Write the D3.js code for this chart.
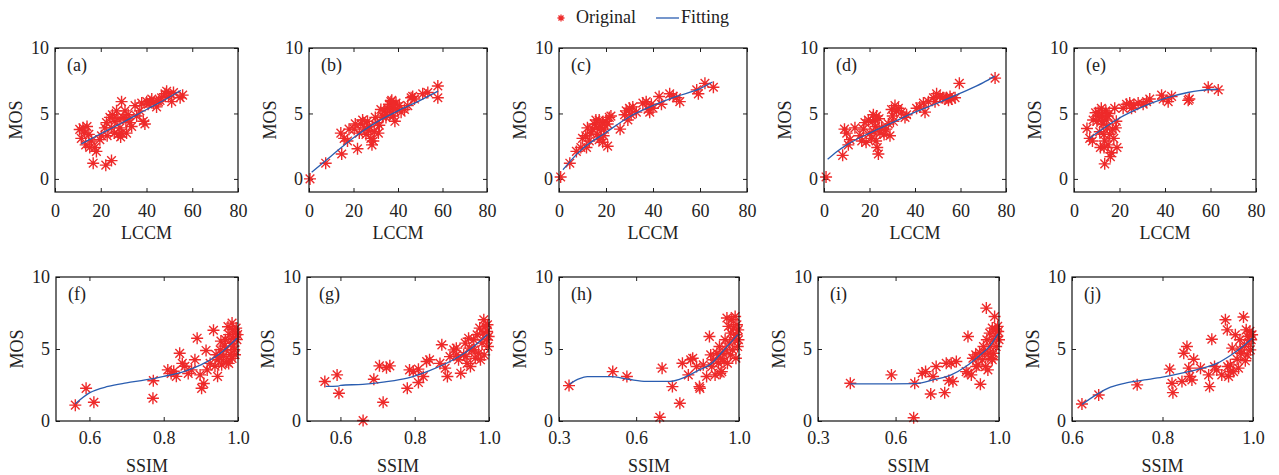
<!DOCTYPE html>
<html>
<head>
<meta charset="utf-8">
<script src="https://cdn.jsdelivr.net/npm/d3@7"></script>
<style>
body { margin: 0; background: #fff; }
text { font-family: "Liberation Serif", serif; fill: #222; }
</style>
</head>
<body>
<svg width="1279" height="475"></svg>
<script>
// Panel names and tick labels
let panelNames = ["(a)", "(b)", "(c)", "(d)", "(e)", "(f)", "(g)", "(h)", "(i)", "(j)"];
let lccmTicks = [0, 20, 40, 60, 80];
let mosTicks = [0, 5, 10];
let ssimTicksFG = [0.6, 0.8, 1.0];
let ssimTicksHI = [0.3, 0.6, 1.0];
let ssimTicksJ = [0.6, 0.8, 1.0];

// (a) LCCM vs MOS
let origA = [[10.8,3.78],[14,4.0],[11.5,3.1],[13,3.5],[14.8,3.4],[16,2.9],[13.4,2.6],[17.4,2.4],[18.1,2.1],[15.2,2.4],
  [16.7,1.2],[22.2,1.05],[24.7,1.4],[19.6,3.0],[20.3,3.3],[21.8,3.9],[22.5,4.3],[24,4.7],[25.1,4.9],[26.2,4.4],
  [25.9,3.5],[27.6,3.4],[28.7,3.2],[28.4,3.9],[29.1,5.9],[26.9,5.2],[29.8,4.7],[30.6,5.2],[32,4.9],[32.7,4.3],
  [33.5,4.0],[31.3,3.5],[35,5.6],[35.7,4.8],[37.1,5.2],[38.6,4.4],[39.3,4.2],[40.1,5.9],[41.5,5.9],[42.3,6.1],
  [43,5.8],[44.4,5.5],[45.2,5.9],[46.6,6.2],[48.1,6.5],[48.8,6.7],[49.6,6.3],[51,5.9],[51.8,6.6],[54.7,6.2],
  [55.8,6.4],[45.9,6.0],[40.7,5.7],[37.9,5.8],[22.8,3.3],[29.1,3.5],[24.7,3.9],[12.2,3.9],[27.5,4.6],[31,4.5]];
let fitA = [[11.5,2.68],[20,3.45],[30,4.35],[40,5.3],[48,6.05],[55,6.76]];

// (b)
let origB = [[0.45,0],[7.5,1.2],[14.7,1.9],[14.3,3.5],[15.8,3.1],[17.3,2.9],[18,3.8],[20.3,3.8],[21.8,2.3],[22.6,3.5],
  [23.3,4.2],[24.1,4.5],[24.8,3.9],[25.6,3.4],[26.3,4.4],[27.1,4.0],[27.8,3.1],[28.3,2.6],[28.9,2.9],[29.3,3.6],
  [29.8,4.7],[30.8,4.3],[31.6,4.1],[33.1,4.8],[33.8,5.2],[34.6,4.7],[35.3,5.4],[36.1,5.7],[36.8,5.9],[37.6,5.4],
  [37.9,4.8],[38.6,4.4],[39.1,5.8],[39.8,5.3],[40.6,5.6],[41.4,5.1],[42.9,5.3],[44.4,5.6],[45.9,6.2],[46.6,6.3],
  [47.4,6.1],[51.1,6.5],[53.4,6.6],[57.9,7.1],[57.9,6.2],[32.3,5.3],[36.8,5.1],[34.6,4.9],[20.8,4.2],[31.2,3.5],
  [37.2,6.0],[38.2,5.6],[26.8,3.7]];
let fitB = [[1.2,0.5],[10,1.75],[20,3.15],[30,4.3],[40,5.2],[50,6.0],[58,6.7]];

// (c)
let origC = [[0.7,0.15],[4.6,1.2],[7.4,2.1],[9.3,2.4],[11.7,2.4],[10,3.1],[11.4,3.3],[12.1,3.9],[13.6,3.5],[15,4.2],
  [15.7,4.5],[16.4,3.4],[17.1,3.0],[17.9,3.9],[18.6,4.3],[17.1,4.5],[19.3,3.8],[20,4.4],[20.7,4.2],[21.4,4.7],
  [22.1,4.8],[20.7,2.5],[18.6,2.8],[26,3.8],[27.9,4.9],[28.6,5.2],[29.3,4.5],[30,5.4],[30.7,4.9],[31.4,5.5],
  [32.9,5.1],[35.7,5.8],[37.1,5.9],[37.9,5.3],[38.6,5.1],[39.3,5.7],[40,5.4],[42.6,6.3],[43.6,5.7],[47.1,6.5],
  [48.6,6.3],[50,6.2],[51.4,5.9],[58.6,6.8],[59.3,6.5],[62.1,7.3],[65.7,7.0],[12.9,2.9],[14.3,3.8],[16.2,3.9],[19,3.3]];
let fitC = [[1.7,0.7],[5,1.4],[10,2.3],[20,3.55],[30,4.75],[40,5.6],[50,6.3],[60,6.9],[65.3,7.4]];

// (d)
let origD = [[0.9,0.15],[8.2,1.8],[9,3.8],[10.7,2.6],[11.4,3.0],[13.6,3.9],[15.8,3.3],[16.6,2.9],[17.3,3.8],[18,4.3],
  [18.5,2.8],[19.5,4.5],[20.2,3.5],[20.9,3.1],[21.4,4.4],[21.7,4.9],[22.4,4.5],[22.7,4.0],[23.1,4.8],[22.9,2.9],
  [23.4,2.4],[23.9,1.9],[24.6,3.5],[25.3,3.9],[26.4,3.4],[27.3,3.8],[28.3,4.2],[29,3.3],[29.7,5.3],[30.2,4.8],
  [30.5,4.4],[31.2,5.6],[31.9,5.2],[32.7,5.4],[34.1,5.1],[35.6,4.7],[36.3,4.9],[40.7,5.4],[42.1,5.5],[43.7,5.8],
  [44.4,5.1],[45.9,5.9],[48.1,6.2],[48.8,5.9],[49.5,6.5],[51,6.3],[52.2,6.2],[53.2,6.1],[53.9,6.2],[54.7,6.0],
  [55.4,6.3],[56.1,6.1],[57.6,6.2],[59.5,7.3],[75.2,7.7],[10,3.5],[22,3.6],[24.2,4.6]];
let fitD = [[1.6,1.5],[5,2.0],[10,2.6],[20,3.5],[30,4.3],[40,5.1],[50,5.8],[60,6.55],[70,7.35],[75,7.85]];

// (e)
let origE = [[5.7,3.85],[6.9,3.1],[8.1,2.9],[8.4,4.5],[10.1,4.4],[10.6,5.1],[11.3,3.6],[11.6,2.4],[12,5.4],[12.5,4.8],
  [12.8,4.2],[13.1,3.4],[13.5,2.9],[13.5,1.15],[14,5.2],[14.2,4.5],[14.5,3.9],[15,2.6],[15.4,5.0],[15.7,3.4],
  [16,1.7],[16.4,2.0],[16.9,3.8],[17.5,3.1],[17.9,5.4],[18.4,3.9],[18.9,2.4],[18.6,4.4],[21.6,5.4],[23.1,5.7],
  [24.5,5.8],[25.3,5.4],[26.3,5.6],[28.2,5.8],[30.4,5.7],[31.9,5.9],[33.3,6.1],[38.5,6.4],[39.2,6.1],[41.4,5.9],
  [42.9,6.3],[50.2,6.0],[50.7,6.1],[59,7.0],[63.4,6.8],[9.5,5.05],[11,4.8],[13.2,2.4],[14.8,4.8],[12.2,4.4]];
let fitE = [[6.9,3.1],[10,3.5],[15,4.1],[20,4.65],[30,5.5],[40,6.15],[50,6.6],[55,6.75],[63.4,6.85]];

// (f) SSIM vs MOS
let origF = [[0.562,1.1],[0.591,2.27],[0.612,1.3],[0.771,1.58],[0.772,2.8],[0.811,3.55],[0.82,3.3],[0.834,3.1],[0.843,4.7],[0.85,4.0],
  [0.857,3.8],[0.866,3.3],[0.875,3.55],[0.884,4.25],[0.89,5.75],[0.898,3.2],[0.902,2.27],[0.908,2.6],[0.914,4.9],[0.917,3.55],
  [0.925,4.0],[0.934,6.3],[0.941,4.6],[0.945,3.1],[0.947,4.25],[0.952,4.95],[0.956,3.9],[0.961,4.5],[0.966,5.65],[0.968,4.95],
  [0.97,4.1],[0.973,6.55],[0.976,6.0],[0.979,4.6],[0.981,5.4],[0.984,6.8],[0.985,6.35],[0.988,5.75],[0.99,4.95],[0.993,6.1],
  [0.995,6.45],[0.997,5.65],[0.999,6.0],[0.954,5.55],[0.938,3.8],[0.95,4.4],[0.963,5.2],[0.984,4.35],[0.988,5.2],[0.827,3.45],
  [0.975,4.0],[0.992,4.6]];
let fitF = [[0.562,1.2],[0.6,1.95],[0.65,2.4],[0.7,2.65],[0.75,2.85],[0.8,3.1],[0.85,3.4],[0.9,3.9],[0.95,4.65],[0.997,5.75]];

// (g)
let origG = [[0.558,2.74],[0.591,3.2],[0.596,1.93],[0.661,0.03],[0.69,2.9],[0.705,3.83],[0.733,3.83],[0.724,3.7],[0.715,1.3],[0.78,2.27],
  [0.786,3.55],[0.796,3.43],[0.81,3.6],[0.81,2.67],[0.823,3.09],[0.832,4.13],[0.84,4.25],[0.873,5.29],[0.868,4.0],[0.882,3.67],
  [0.888,3.09],[0.895,4.47],[0.905,4.94],[0.912,5.06],[0.918,4.25],[0.924,3.32],[0.932,4.59],[0.936,5.41],[0.941,4.0],[0.945,5.75],
  [0.95,3.78],[0.954,4.94],[0.959,5.64],[0.963,4.36],[0.968,5.99],[0.972,4.71],[0.975,6.45],[0.977,4.25],[0.981,5.41],[0.984,6.1],
  [0.986,7.03],[0.987,4.59],[0.99,6.57],[0.993,5.64],[0.995,6.22],[0.996,6.68],[0.999,5.87],[0.997,5.17],[0.96,4.94],[0.947,5.06],
  [0.913,4.59],[0.938,4.47]];
let fitG = [[0.56,2.4],[0.594,2.42],[0.6,2.48],[0.66,2.55],[0.72,2.72],[0.78,2.98],[0.84,3.5],[0.9,4.2],[0.95,5.0],[0.996,6.0]];

// (h)
let origH = [[0.339,2.46],[0.509,3.43],[0.564,3.09],[0.692,0.26],[0.701,3.67],[0.741,2.39],[0.77,1.23],[0.78,4.01],[0.803,3.2],[0.812,4.25],
  [0.82,4.36],[0.835,3.78],[0.846,2.39],[0.848,2.27],[0.861,3.9],[0.874,3.09],[0.885,5.87],[0.89,4.59],[0.9,4.25],[0.907,3.2],
  [0.914,4.71],[0.92,4.01],[0.924,5.17],[0.929,4.36],[0.933,3.43],[0.937,4.71],[0.942,4.13],[0.946,5.64],[0.95,4.94],[0.953,7.15],
  [0.955,4.01],[0.959,6.57],[0.963,5.41],[0.966,4.59],[0.968,6.1],[0.972,7.03],[0.975,4.94],[0.979,6.45],[0.981,5.64],[0.985,7.26],
  [0.988,4.36],[0.989,5.99],[0.992,6.68],[0.995,5.17],[0.997,6.33],[0.998,5.64],[0.927,3.32],[0.894,3.78]];
let fitH = [[0.339,2.55],[0.38,2.95],[0.41,3.08],[0.5,3.08],[0.57,2.9],[0.64,2.75],[0.73,2.75],[0.79,3.05],[0.84,3.5],[0.89,3.95],[0.94,4.9],[0.995,6.0]];

// (i)
let origI = [[0.425,2.62],[0.584,3.2],[0.67,0.23],[0.674,2.62],[0.703,3.32],[0.716,3.43],[0.736,1.88],[0.745,3.09],[0.757,3.78],[0.79,1.97],
  [0.796,4.01],[0.806,2.81],[0.815,4.01],[0.822,2.74],[0.835,4.13],[0.88,5.87],[0.88,3.32],[0.893,3.2],[0.899,4.36],[0.91,4.59],
  [0.919,3.9],[0.925,4.76],[0.928,2.55],[0.935,4.25],[0.94,5.17],[0.948,3.78],[0.951,7.84],[0.953,5.64],[0.957,3.55],[0.961,4.71],
  [0.964,6.1],[0.966,5.17],[0.97,4.36],[0.974,6.45],[0.977,5.64],[0.979,4.71],[0.983,7.26],[0.986,6.33],[0.989,5.17],[0.992,5.87],
  [0.995,6.57],[0.997,6.22],[1.0,5.64],[0.974,4.25],[0.912,3.78],[0.873,3.43],[0.944,4.71]];
let fitI = [[0.425,2.58],[0.55,2.58],[0.68,2.6],[0.745,2.85],[0.815,3.2],[0.873,3.8],[0.925,4.55],[0.964,5.2],[0.996,6.05]];

// (j)
let origJ = [[0.622,1.18],[0.659,1.81],[0.744,2.51],[0.816,3.6],[0.821,2.62],[0.823,1.97],[0.843,2.74],[0.847,4.71],[0.854,5.17],[0.858,3.67],
  [0.86,3.09],[0.865,2.85],[0.869,4.29],[0.884,3.67],[0.902,3.2],[0.904,2.39],[0.909,5.68],[0.92,3.55],[0.931,3.2],[0.939,7.03],
  [0.943,6.33],[0.944,3.78],[0.946,3.09],[0.95,3.9],[0.954,5.06],[0.957,3.43],[0.961,5.99],[0.965,4.29],[0.968,3.67],[0.971,5.64],
  [0.973,4.71],[0.979,7.22],[0.981,5.17],[0.983,4.18],[0.985,6.33],[0.987,4.59],[0.988,5.87],[0.99,5.41],[0.993,6.22],[0.994,4.94],
  [0.996,5.64],[0.998,5.99],[0.972,4.94],[0.95,3.43],[0.915,3.78]];
let fitJ = [[0.622,1.15],[0.655,1.85],[0.685,2.35],[0.72,2.65],[0.76,2.85],[0.8,3.05],[0.84,3.3],[0.88,3.6],[0.92,4.0],[0.95,4.55],[0.98,5.25],[0.998,5.75]];

// Layout
let width = 1279;
let height = 475;
let red = "#ee2a2a";
let blue = "#2a5db0";
let fontSize = 18;
let rowTop = { t: 48, b: 192 };
let rowBot = { t: 277, b: 421 };

let panels = [
  { orig: origA, fit: fitA, l: 55, r: 238, row: rowTop, xd: [0, 80], yd: [-1, 10], xt: lccmTicks, xl: "LCCM" },
  { orig: origB, fit: fitB, l: 309, r: 487, row: rowTop, xd: [0, 80], yd: [-1, 10], xt: lccmTicks, xl: "LCCM" },
  { orig: origC, fit: fitC, l: 559, r: 747, row: rowTop, xd: [0, 80], yd: [-1, 10], xt: lccmTicks, xl: "LCCM" },
  { orig: origD, fit: fitD, l: 824, r: 1006, row: rowTop, xd: [0, 80], yd: [-1, 10], xt: lccmTicks, xl: "LCCM" },
  { orig: origE, fit: fitE, l: 1074, r: 1256, row: rowTop, xd: [0, 80], yd: [-1, 10], xt: lccmTicks, xl: "LCCM" },
  { orig: origF, fit: fitF, l: 56, r: 238, row: rowBot, xd: [0.51, 1], yd: [0, 10], xt: ssimTicksFG, xl: "SSIM" },
  { orig: origG, fit: fitG, l: 307, r: 489, row: rowBot, xd: [0.51, 1], yd: [0, 10], xt: ssimTicksFG, xl: "SSIM" },
  { orig: origH, fit: fitH, l: 559, r: 739, row: rowBot, xd: [0.3, 1], yd: [0, 10], xt: ssimTicksHI, xl: "SSIM" },
  { orig: origI, fit: fitI, l: 818, r: 999, row: rowBot, xd: [0.3, 1], yd: [0, 10], xt: ssimTicksHI, xl: "SSIM" },
  { orig: origJ, fit: fitJ, l: 1072, r: 1253, row: rowBot, xd: [0.6, 1], yd: [0, 10], xt: ssimTicksJ, xl: "SSIM" }
];

// MATLAB style '*' marker
let asterisk = {
  draw(ctx, size) {
    let r = Math.sqrt(size) / 2;
    let d = r * 0.72;
    ctx.moveTo(-r, 0); ctx.lineTo(r, 0);
    ctx.moveTo(0, -r); ctx.lineTo(0, r);
    ctx.moveTo(-d, -d); ctx.lineTo(d, d);
    ctx.moveTo(-d, d); ctx.lineTo(d, -d);
  }
};

let svg = d3.select("svg").attr("width", width).attr("height", height);

let styleAxis = (g) => {
  g.select(".domain").remove();
  g.attr("font-family", "Liberation Serif").attr("font-size", fontSize).attr("color", "#222");
  g.selectAll(".tick line").attr("stroke", "#222");
};

let drawPanel = (p, i) => {
  let t = p.row.t, b = p.row.b;
  let xScale = d3.scaleLinear().domain(p.xd).range([p.l, p.r]);
  let yScale = d3.scaleLinear().domain(p.yd).range([b, t]);
  let isSsim = p.xl === "SSIM";
  let fmt = isSsim ? d3.format(".1f") : d3.format("d");

  let g = svg.append("g");

  g.append("g")
    .attr("transform", "translate(0," + b + ")")
    .call(d3.axisBottom(xScale).tickValues(p.xt).tickFormat(fmt)
      .tickSizeInner(-4).tickSizeOuter(0).tickPadding(isSsim ? 10 : 12))
    .call(styleAxis);
  g.append("g")
    .attr("transform", "translate(0," + t + ")")
    .call(d3.axisTop(xScale).tickValues(p.xt).tickFormat("").tickSizeInner(-4).tickSizeOuter(0))
    .call(styleAxis);
  g.append("g")
    .attr("transform", "translate(" + p.l + ",0)")
    .call(d3.axisLeft(yScale).tickValues(mosTicks).tickSizeInner(-4).tickSizeOuter(0).tickPadding(6))
    .call(styleAxis);
  g.append("g")
    .attr("transform", "translate(" + p.r + ",0)")
    .call(d3.axisRight(yScale).tickValues(mosTicks).tickFormat("").tickSizeInner(-4).tickSizeOuter(0))
    .call(styleAxis);

  // data points
  g.append("g")
    .selectAll("path")
    .data(p.orig)
    .join("path")
    .attr("transform", (d) => "translate(" + xScale(d[0]) + "," + yScale(d[1]) + ")")
    .attr("d", d3.symbol(asterisk, 144))
    .attr("fill", "none")
    .attr("stroke", red)
    .attr("stroke-width", 1.4);

  // fitting curve
  g.append("path")
    .datum(p.fit)
    .attr("d", d3.line().x((d) => xScale(d[0])).y((d) => yScale(d[1])).curve(d3.curveMonotoneX))
    .attr("fill", "none")
    .attr("stroke", blue)
    .attr("stroke-width", 1.3);

  // box
  g.append("rect")
    .attr("x", p.l).attr("y", t)
    .attr("width", p.r - p.l).attr("height", b - t)
    .attr("fill", "none").attr("stroke", "#111").attr("stroke-width", 1.2);

  g.append("text")
    .attr("x", p.l + 12).attr("y", t + 23)
    .attr("font-size", fontSize)
    .text(panelNames[i]);

  g.append("text")
    .attr("x", (p.l + p.r) / 2).attr("y", isSsim ? 472 : 239)
    .attr("text-anchor", "middle")
    .attr("font-size", fontSize)
    .text(p.xl);

  g.append("text")
    .attr("transform", "translate(" + (p.l - 33) + "," + (t + b) / 2 + ") rotate(-90)")
    .attr("text-anchor", "middle")
    .attr("font-size", fontSize)
    .text("MOS");
};

panels.forEach(drawPanel);

// Legend
let legend = svg.append("g");
legend.append("path")
  .attr("transform", "translate(561,18)")
  .attr("d", d3.symbol(asterisk, 49))
  .attr("stroke", red).attr("stroke-width", 1.3).attr("fill", "none");
legend.append("text")
  .attr("x", 576).attr("y", 23)
  .attr("font-size", 18)
  .text("Original");
legend.append("line")
  .attr("x1", 656).attr("x2", 679).attr("y1", 18).attr("y2", 18)
  .attr("stroke", blue).attr("stroke-width", 1.3);
legend.append("text")
  .attr("x", 681).attr("y", 23)
  .attr("font-size", 18)
  .text("Fitting");
</script>
</body>
</html>
